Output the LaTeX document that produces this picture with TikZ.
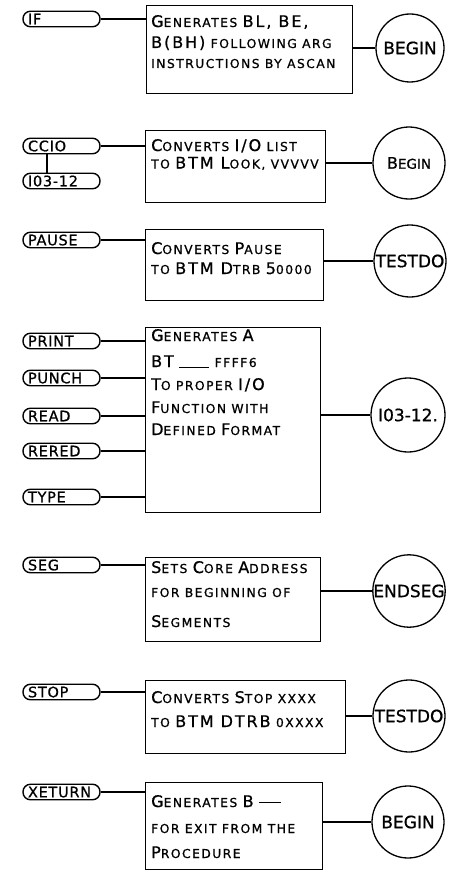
\documentclass[tikz,border=0pt]{standalone}
\usepackage{fontspec}
\setmainfont{DejaVu Sans}[LetterSpace=12, FakeBold=0.8]
\newcommand\Bg[1]{{\fontsize{16}{16}\selectfont #1}}
\newcommand\pillfont{\fontsize{14.5}{14.5}\selectfont\addfontfeature{LetterSpace=5}}
\newcommand\boxfont{\fontsize{12.3}{13}\selectfont}
\newcommand\circfont{\fontsize{17}{17}\selectfont\addfontfeature{LetterSpace=0}}
\newcommand\blank[1]{\rule[-0.5pt]{#1}{1pt}}
\newcommand\dashbar[1]{\rule[4pt]{#1}{1pt}}
\newcommand\pl[1]{\makebox[67pt][l]{#1}}
\begin{document}
\begin{tikzpicture}[x=1pt,y=-1pt,
  pill/.style={draw, line width=1.4pt, rounded corners=7.5pt,
    inner xsep=5pt, inner ysep=0pt,
    minimum height=15.5pt, text height=10.6pt, text depth=0pt, font=\pillfont},
  fbox/.style={draw, line width=1.3pt, rectangle, inner sep=0pt, anchor=north west},
  circ/.style={draw, circle, line width=1.3pt, inner sep=0pt, font=\circfont},
  txt/.style={anchor=base west, inner sep=0pt, font=\boxfont},
  conn/.style={line width=1.3pt}]
\useasboundingbox (0,0) rectangle (448,872);

% ---------- IF ----------
\node[pill] (pIF) at (61.5,19) {\pl{IF}};
\node[fbox, minimum width=206pt, minimum height=88pt] (bIF) at (146,5) {};
\node[circ, minimum size=68pt] (cIF) at (410,48) {BEGIN};
\node[txt] (tIFa) at (151,27) {\Bg{G}ENERATES \Bg{BL, BE,}};
\node[txt] (tIFb) at (151,48) {\Bg{B(BH)} FOLLOWING ARG};
\node[txt] (tIFc) at (151,68) {INSTRUCTIONS BY ASCAN};
\draw[conn] (pIF.east) -- (pIF.east -| bIF.west);
\draw[conn] (bIF.east |- cIF.west) -- (cIF.west);

% ---------- CCIO ----------
\node[pill] (pCCIO) at (61.5,146) {\pl{CCIO}};
\node[pill] (pIO) at (61.5,181) {\pl{I03-12}};
\node[fbox, minimum width=180pt, minimum height=72pt] (bCCIO) at (145,130) {};
\node[circ, minimum size=72pt] (cCCIO) at (409,163) {\Bg{B}\fontsize{13.5}{13.5}\selectfont EGIN};
\node[txt] (tCCa) at (151,151) {\Bg{C}ONVERTS \Bg{I/O} LIST};
\node[txt] (tCCb) at (151,168.5) {TO \Bg{BTM L}OOK, VVVVV};
\draw[conn] (pCCIO.east) -- (pCCIO.east -| bCCIO.west);
\draw[conn] ([xshift=-14.5pt]pCCIO.south) -- ([xshift=-14.5pt]pIO.north);
\draw[conn] (bCCIO.east |- cCCIO.west) -- (cCCIO.west);

% ---------- PAUSE ----------
\node[pill] (pPAUSE) at (61.5,240) {\pl{PAUSE}};
\node[fbox, minimum width=178pt, minimum height=71pt] (bPAUSE) at (145,229) {};
\node[circ, minimum size=72pt] (cPAUSE) at (410,261) {TESTDO};
\node[txt] (tPAa) at (151,254) {\Bg{C}ONVERTS \Bg{P}AUSE};
\node[txt] (tPAb) at (151,274) {TO \Bg{BTM D}TRB \Bg{5}0000};
\draw[conn] (pPAUSE.east) -- (pPAUSE.east -| bPAUSE.west);
\draw[conn] (bPAUSE.east |- cPAUSE.west) -- (cPAUSE.west);

% ---------- PRINT group ----------
\node[pill] (pPRINT) at (61.5,341) {\pl{PRINT}};
\node[pill] (pPUNCH) at (61.5,378) {\pl{PUNCH}};
\node[pill] (pREAD) at (61.5,416) {\pl{READ}};
\node[pill] (pRERED) at (61.5,451) {\pl{RERED}};
\node[pill] (pTYPE) at (61.5,497) {\pl{TYPE}};
\node[fbox, minimum width=175pt, minimum height=185pt] (bPRINT) at (145,327) {};
\node[circ, minimum size=74pt] (cPRINT) at (408,415) {I03-12.};
\node[txt] (tPRa) at (151,341) {\Bg{G}ENERATES \Bg{A}};
\node[txt] (tPRb) at (151,367) {\Bg{BT} \blank{30pt} FFFF6};
\node[txt] (tPRc) at (151,390) {\Bg{T}O PROPER \Bg{I/O}};
\node[txt] (tPRd) at (151,413) {\Bg{F}UNCTION WITH};
\node[txt] (tPRe) at (151,435) {\Bg{D}EFINED \Bg{F}ORMAT};
\foreach \p in {pPRINT,pPUNCH,pREAD,pRERED,pTYPE}
  \draw[conn] (\p.east) -- (\p.east -| bPRINT.west);
\draw[conn] (bPRINT.east |- cPRINT.west) -- (cPRINT.west);

% ---------- SEG ----------
\node[pill] (pSEG) at (61.5,565) {\pl{SEG}};
\node[fbox, minimum width=175pt, minimum height=84pt] (bSEG) at (145,557) {};
\node[circ, minimum size=72pt] (cSEG) at (409,591) {ENDSEG};
\node[txt] (tSEa) at (151,573) {\Bg{S}ETS \Bg{C}ORE \Bg{A}DDRESS};
\node[txt] (tSEb) at (151,597) {FOR BEGINNING OF};
\node[txt] (tSEc) at (151,627) {\Bg{S}EGMENTS};
\draw[conn] (pSEG.east) -- (pSEG.east -| bSEG.west);
\draw[conn] (bSEG.east |- cSEG.west) -- (cSEG.west);

% ---------- STOP ----------
\node[pill] (pSTOP) at (61.5,692) {\pl{STOP}};
\node[fbox, minimum width=200pt, minimum height=73pt] (bSTOP) at (145,680) {};
\node[circ, minimum size=72pt] (cSTOP) at (409,716) {TESTDO};
\node[txt] (tSTa) at (151,703) {\Bg{C}ONVERTS \Bg{S}TOP XXXX};
\node[txt] (tSTb) at (151,727) {TO \Bg{BTM DTRB} 0XXXX};
\draw[conn] (pSTOP.east) -- (pSTOP.east -| bSTOP.west);
\draw[conn] (bSTOP.east |- cSTOP.west) -- (cSTOP.west);

% ---------- XETURN ----------
\node[pill] (pXET) at (61.5,792) {\pl{XETURN}};
\node[fbox, minimum width=177pt, minimum height=87pt] (bXET) at (145,782) {};
\node[circ, minimum size=72pt] (cXET) at (408,822) {BEGIN};
\node[txt] (tXEa) at (151,807) {\Bg{G}ENERATES \Bg{B} \dashbar{22pt}};
\node[txt] (tXEb) at (151,833) {FOR EXIT FROM THE};
\node[txt] (tXEc) at (151,858) {\Bg{P}ROCEDURE};
\draw[conn] (pXET.east) -- (pXET.east -| bXET.west);
\draw[conn] (bXET.east |- cXET.west) -- (cXET.west);
\end{tikzpicture}
\end{document}
